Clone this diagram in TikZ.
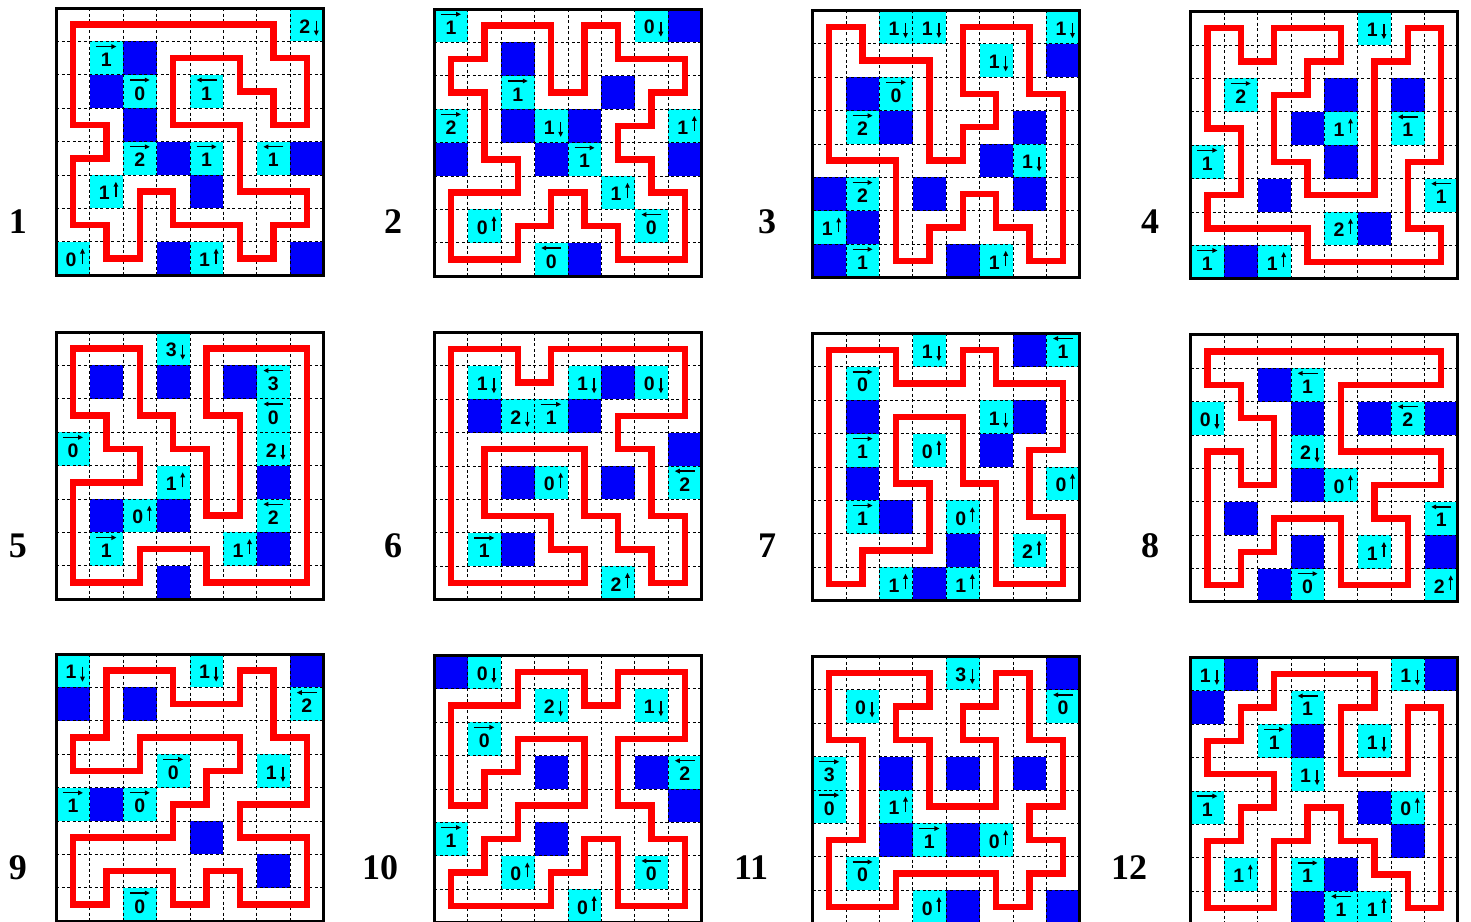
\documentclass[tikz,border=0pt]{standalone}
\usepackage{fontspec}
\setmainfont{Liberation Serif}
\newfontfamily\cluefont{Liberation Sans}
\usetikzlibrary{arrows.meta}
\definecolor{cellblue}{RGB}{0,0,250}
\definecolor{cellcyan}{RGB}{0,255,255}
\definecolor{looped}{RGB}{255,0,0}
\tikzset{
 cluetxt/.style={inner sep=0pt, font=\cluefont\bfseries\fontsize{19.5}{19.5}\selectfont},
 cluearrow/.style={line width=1.3pt, -{Triangle[length=5pt,width=4.5pt]}},
 gridline/.style={line width=0.7pt, dash pattern=on 3pt off 2.5pt, black},
 loopline/.style={line width=6.5pt, draw=looped, line join=miter},
 pframe/.style={line width=3pt, black},
 lab/.style={font=\bfseries\fontsize{36}{36}\selectfont, inner sep=0pt}
}
\newcommand\pid{}
\newcommand\clueR[3]{%
 \fill[cellcyan] (#1,#2) rectangle ++(1,1);
 \node[cluetxt] (c\pid-#1-#2) at ([yshift=-1.8pt]#1+0.5,#2+0.5) {#3};
 \draw[cluearrow] ([xshift=-10pt,yshift=11.5pt]#1+0.5,#2+0.5) -- ([xshift=10pt,yshift=11.5pt]#1+0.5,#2+0.5);}
\newcommand\clueL[3]{%
 \fill[cellcyan] (#1,#2) rectangle ++(1,1);
 \node[cluetxt] (c\pid-#1-#2) at ([yshift=-1.8pt]#1+0.5,#2+0.5) {#3};
 \draw[cluearrow] ([xshift=10pt,yshift=11.5pt]#1+0.5,#2+0.5) -- ([xshift=-10pt,yshift=11.5pt]#1+0.5,#2+0.5);}
\newcommand\clueU[3]{%
 \fill[cellcyan] (#1,#2) rectangle ++(1,1);
 \node[cluetxt] (c\pid-#1-#2) at ([xshift=-2pt,yshift=-1.5pt]#1+0.5,#2+0.5) {#3};
 \draw[cluearrow] ([xshift=9.5pt,yshift=-5pt]#1+0.5,#2+0.5) -- ([xshift=9.5pt,yshift=10pt]#1+0.5,#2+0.5);}
\newcommand\clueD[3]{%
 \fill[cellcyan] (#1,#2) rectangle ++(1,1);
 \node[cluetxt] (c\pid-#1-#2) at ([xshift=-2pt,yshift=-1.5pt]#1+0.5,#2+0.5) {#3};
 \draw[cluearrow] ([xshift=9.5pt,yshift=4pt]#1+0.5,#2+0.5) -- ([xshift=9.5pt,yshift=-11pt]#1+0.5,#2+0.5);}
\newcommand\drawpuzzle[6]{%
 \renewcommand\pid{#1}%
 \begin{scope}[shift={(#2,#3)},x=33.4pt,y=-33.4pt]
  \foreach \qc/\qr in {#4} {\fill[cellblue] (\qc,\qr) rectangle ++(1,1);}
  \foreach \qc/\qr/\qn/\qd in {#5} {\csname clue\qd\endcsname{\qc}{\qr}{\qn}}
  \foreach \qi in {1,...,7} {\draw[gridline] (\qi,0) -- (\qi,8); \draw[gridline] (0,\qi) -- (8,\qi);}
  \draw[loopline, shift={(0.5,0.5)}] #6 -- cycle;
  \draw[pframe] (0,0) rectangle (8,8);
 \end{scope}}
\begin{document}
\begin{tikzpicture}[x=1pt,y=-1pt]
\useasboundingbox (0,0) rectangle (1471,921);
\fill[white] (0,0) rectangle (1471,921);
% ---------- row 1
\drawpuzzle{1}{56.3}{8}
 {2/1,1/2,2/3,3/4,7/4,4/5,3/7,7/7}
 {7/0/2/D,1/1/1/R,2/2/0/R,4/2/1/L,2/4/2/R,4/4/1/R,6/4/1/L,1/5/1/U,0/7/0/U,4/7/1/U}
 {(0,0)--(6,0)--(6,1)--(7,1)--(7,3)--(6,3)--(6,2)--(5,2)--(5,1)--(3,1)--(3,3)--(5,3)--(5,5)--(7,5)--(7,6)--(6,6)--(6,7)--(5,7)--(5,6)--(3,6)--(3,5)--(2,5)--(2,7)--(1,7)--(1,6)--(0,6)--(0,4)--(1,4)--(1,3)--(0,3)}
\drawpuzzle{2}{434.3}{9}
 {7/0,2/1,5/2,2/3,4/3,0/4,3/4,7/4,4/7}
 {0/0/1/R,6/0/0/D,2/2/1/R,0/3/2/R,3/3/1/D,7/3/1/U,4/4/1/R,5/5/1/U,1/6/0/U,6/6/0/L,3/7/0/L}
 {(1,0)--(3,0)--(3,2)--(4,2)--(4,0)--(5,0)--(5,1)--(7,1)--(7,2)--(6,2)--(6,3)--(5,3)--(5,4)--(6,4)--(6,5)--(7,5)--(7,7)--(5,7)--(5,6)--(4,6)--(4,5)--(3,5)--(3,6)--(2,6)--(2,7)--(0,7)--(0,5)--(2,5)--(2,4)--(1,4)--(1,2)--(0,2)--(0,1)--(1,1)}
\drawpuzzle{3}{812.5}{10.3}
 {7/1,1/2,2/3,6/3,5/4,0/5,3/5,6/5,1/6,0/7,4/7}
 {2/0/1/D,3/0/1/D,7/0/1/D,5/1/1/D,2/2/0/R,1/3/2/R,6/4/1/D,1/5/2/R,0/6/1/U,1/7/1/R,5/7/1/U}
 {(0,0)--(1,0)--(1,1)--(3,1)--(3,4)--(4,4)--(4,3)--(5,3)--(5,2)--(4,2)--(4,0)--(6,0)--(6,2)--(7,2)--(7,7)--(6,7)--(6,6)--(5,6)--(5,5)--(4,5)--(4,6)--(3,6)--(3,7)--(2,7)--(2,4)--(0,4)}
\drawpuzzle{4}{1190.7}{11.5}
 {4/2,6/2,3/3,4/4,2/5,5/6,1/7}
 {5/0/1/D,1/2/2/R,4/3/1/U,6/3/1/L,0/4/1/R,7/5/1/L,4/6/2/U,0/7/1/R,2/7/1/U}
 {(0,0)--(1,0)--(1,1)--(2,1)--(2,0)--(4,0)--(4,1)--(3,1)--(3,2)--(2,2)--(2,4)--(3,4)--(3,5)--(5,5)--(5,1)--(6,1)--(6,0)--(7,0)--(7,4)--(6,4)--(6,6)--(7,6)--(7,7)--(3,7)--(3,6)--(0,6)--(0,5)--(1,5)--(1,3)--(0,3)}
% ---------- row 2
\drawpuzzle{5}{56.3}{332}
 {1/1,3/1,5/1,6/4,1/5,3/5,6/6,3/7}
 {3/0/3/D,6/1/3/L,6/2/0/L,0/3/0/R,6/3/2/D,3/4/1/U,2/5/0/U,6/5/2/L,1/6/1/R,5/6/1/U}
 {(0,0)--(2,0)--(2,2)--(3,2)--(3,3)--(4,3)--(4,5)--(5,5)--(5,2)--(4,2)--(4,0)--(7,0)--(7,7)--(4,7)--(4,6)--(2,6)--(2,7)--(0,7)--(0,4)--(2,4)--(2,3)--(1,3)--(1,2)--(0,2)}
\drawpuzzle{6}{434.3}{332.3}
 {5/1,1/2,4/2,7/3,2/4,5/4,2/6}
 {1/1/1/D,4/1/1/D,6/1/0/D,2/2/2/D,3/2/1/R,3/4/0/U,7/4/2/L,1/6/1/R,5/7/2/U}
 {(0,0)--(2,0)--(2,1)--(3,1)--(3,0)--(7,0)--(7,2)--(5,2)--(5,3)--(6,3)--(6,5)--(7,5)--(7,7)--(6,7)--(6,6)--(5,6)--(5,5)--(4,5)--(4,3)--(1,3)--(1,5)--(3,5)--(3,6)--(4,6)--(4,7)--(0,7)}
\drawpuzzle{7}{812.5}{333.3}
 {6/0,1/2,6/2,5/3,1/4,2/5,4/6,3/7}
 {3/0/1/D,7/0/1/L,1/1/0/R,5/2/1/D,1/3/1/R,3/3/0/U,7/4/0/U,1/5/1/R,4/5/0/U,6/6/2/U,2/7/1/U,4/7/1/U}
 {(0,0)--(2,0)--(2,1)--(4,1)--(4,0)--(5,0)--(5,1)--(7,1)--(7,3)--(6,3)--(6,5)--(7,5)--(7,7)--(5,7)--(5,4)--(4,4)--(4,2)--(2,2)--(2,4)--(3,4)--(3,6)--(1,6)--(1,7)--(0,7)}
\drawpuzzle{8}{1190.7}{334.7}
 {2/1,3/2,5/2,7/2,3/4,1/5,3/6,7/6,2/7}
 {3/1/1/L,0/2/0/D,6/2/2/L,3/3/2/D,4/4/0/U,7/5/1/L,5/6/1/U,3/7/0/R,7/7/2/U}
 {(0,0)--(7,0)--(7,1)--(4,1)--(4,3)--(7,3)--(7,4)--(5,4)--(5,5)--(6,5)--(6,7)--(4,7)--(4,5)--(2,5)--(2,6)--(1,6)--(1,7)--(0,7)--(0,3)--(1,3)--(1,4)--(2,4)--(2,2)--(1,2)--(1,1)--(0,1)}
% ---------- row 3
\drawpuzzle{9}{56.3}{654}
 {7/0,0/1,2/1,1/4,4/5,6/6}
 {0/0/1/D,4/0/1/D,7/1/2/L,3/3/0/R,6/3/1/D,0/4/1/R,2/4/0/R,2/7/0/R}
 {(1,0)--(3,0)--(3,1)--(5,1)--(5,0)--(6,0)--(6,2)--(7,2)--(7,4)--(5,4)--(5,5)--(7,5)--(7,7)--(5,7)--(5,6)--(4,6)--(4,7)--(3,7)--(3,6)--(1,6)--(1,7)--(0,7)--(0,5)--(3,5)--(3,4)--(4,4)--(4,3)--(5,3)--(5,2)--(2,2)--(2,3)--(0,3)--(0,2)--(1,2)}
\drawpuzzle{10}{434.3}{655.3}
 {0/0,3/3,6/3,7/4,3/5}
 {1/0/0/D,3/1/2/D,6/1/1/D,1/2/0/R,7/3/2/L,0/5/1/R,2/6/0/U,6/6/0/L,4/7/0/U}
 {(0,1)--(2,1)--(2,0)--(4,0)--(4,1)--(5,1)--(5,0)--(7,0)--(7,2)--(5,2)--(5,4)--(6,4)--(6,5)--(7,5)--(7,7)--(5,7)--(5,5)--(4,5)--(4,6)--(3,6)--(3,7)--(0,7)--(0,6)--(1,6)--(1,5)--(2,5)--(2,4)--(4,4)--(4,2)--(2,2)--(2,3)--(1,3)--(1,4)--(0,4)}
\drawpuzzle{11}{812.5}{656.3}
 {7/0,2/3,4/3,6/3,2/5,4/5,4/7,7/7}
 {4/0/3/D,1/1/0/D,7/1/0/L,0/3/3/R,0/4/0/R,2/4/1/U,3/5/1/R,5/5/0/U,1/6/0/R,3/7/0/U}
 {(0,0)--(3,0)--(3,1)--(2,1)--(2,2)--(3,2)--(3,4)--(5,4)--(5,2)--(4,2)--(4,1)--(5,1)--(5,0)--(6,0)--(6,2)--(7,2)--(7,4)--(6,4)--(6,5)--(7,5)--(7,6)--(6,6)--(6,7)--(5,7)--(5,6)--(2,6)--(2,7)--(0,7)--(0,5)--(1,5)--(1,2)--(0,2)}
\drawpuzzle{12}{1190.7}{657.3}
 {1/0,7/0,0/1,3/2,5/4,6/5,4/6,3/7}
 {0/0/1/D,6/0/1/D,3/1/1/L,2/2/1/R,5/2/1/D,3/3/1/D,0/4/1/R,6/4/0/U,1/6/1/U,3/6/1/R,4/7/1/L,5/7/1/U}
 {(2,0)--(5,0)--(5,1)--(4,1)--(4,3)--(6,3)--(6,1)--(7,1)--(7,7)--(6,7)--(6,6)--(5,6)--(5,5)--(4,5)--(4,4)--(3,4)--(3,5)--(2,5)--(2,7)--(0,7)--(0,5)--(1,5)--(1,4)--(2,4)--(2,3)--(0,3)--(0,2)--(1,2)--(1,1)--(2,1)}
% ---------- labels
\node[lab] (lab1) at (18,222) {1};
\node[lab] (lab2) at (393,222) {2};
\node[lab] (lab3) at (767,222) {3};
\node[lab] (lab4) at (1150,222) {4};
\node[lab] (lab5) at (18,546) {5};
\node[lab] (lab6) at (393,546) {6};
\node[lab] (lab7) at (767,546) {7};
\node[lab] (lab8) at (1150,546) {8};
\node[lab] (lab9) at (18,868) {9};
\node[lab] (lab10) at (380,868) {10};
\node[lab] (lab11) at (751,868) {11};
\node[lab] (lab12) at (1129,868) {12};
\end{tikzpicture}
\end{document}
